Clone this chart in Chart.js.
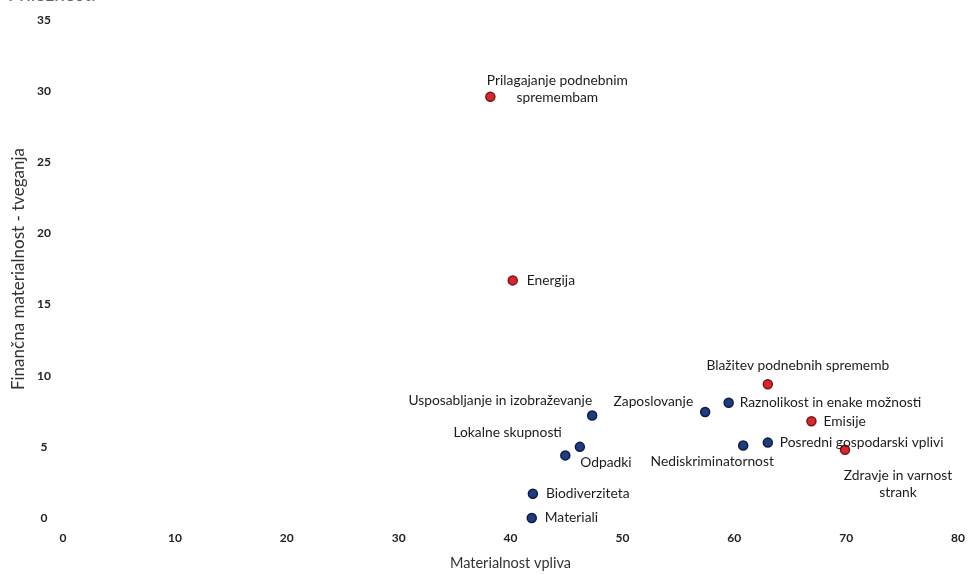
<!DOCTYPE html>
<html>
<head>
<meta charset="utf-8">
<script src="https://cdn.jsdelivr.net/npm/chart.js@4.4.1/dist/chart.umd.min.js"></script>
<style>
  html, body { margin: 0; padding: 0; background: #fff; }
  #wrap { position: relative; width: 968px; height: 574px; overflow: hidden; }
  #cut { position: absolute; left: 8px; top: -18px; font: 19px/23px Lato, sans-serif; color: #666; }
</style>
</head>
<body>
<div id="wrap">
  <div id="cut">Priložnosti</div>
  <canvas id="chart" width="968" height="574"></canvas>
</div>
<script>
// data ====================================
const redNames = ["Prilagajanje podnebnim spremembam", "Energija", "Blažitev podnebnih sprememb", "Emisije", "Zdravje in varnost strank"];
const redX = [38.2, 40.2, 63.0, 66.9, 69.9];
const redY = [29.6, 16.7, 9.4, 6.8, 4.8];

const blueNames = ["Usposabljanje in izobraževanje", "Zaposlovanje", "Raznolikost in enake možnosti", "Lokalne skupnosti", "Odpadki", "Nediskriminatornost", "Posredni gospodarski vplivi", "Biodiverziteta", "Materiali"];
const blueX = [47.3, 57.4, 59.5, 46.2, 44.9, 60.8, 63.0, 42.0, 41.9];
const blueY = [7.2, 7.45, 8.1, 5.0, 4.4, 5.1, 5.3, 1.7, 0];

const xTicks = [0, 10, 20, 30, 40, 50, 60, 70, 80];
const yTicks = [0, 5, 10, 15, 20, 25, 30, 35];

// label placement (name lines, anchor relative to point)
const redLabelPlace = [
  { lines: ["Prilagajanje podnebnim", "spremembam"], align: "center", dx: 67, dy: -8 },
  { lines: ["Energija"], align: "left", dx: 14, dy: 0 },
  { lines: ["Blažitev podnebnih sprememb"], align: "center", dx: 30, dy: -19 },
  { lines: ["Emisije"], align: "left", dx: 12, dy: 0 },
  { lines: ["Zdravje in varnost", "strank"], align: "center", dx: 53, dy: 34 },
];
const blueLabelPlace = [
  { lines: ["Usposabljanje in izobraževanje"], align: "right", dx: 0, dy: -15 },
  { lines: ["Zaposlovanje"], align: "right", dx: -12, dy: -10 },
  { lines: ["Raznolikost in enake možnosti"], align: "left", dx: 11, dy: 0 },
  { lines: ["Lokalne skupnosti"], align: "right", dx: -18, dy: -14 },
  { lines: ["Odpadki"], align: "left", dx: 15, dy: 7 },
  { lines: ["Nediskriminatornost"], align: "center", dx: -31, dy: 16 },
  { lines: ["Posredni gospodarski vplivi"], align: "left", dx: 12, dy: 0 },
  { lines: ["Biodiverziteta"], align: "left", dx: 13, dy: 0 },
  { lines: ["Materiali"], align: "left", dx: 13, dy: 0 },
];

const toPoints = (xs, ys) => xs.map((x, i) => ({ x: x, y: ys[i] }));

// point labels plugin
const pointLabels = {
  id: "pointLabels",
  afterDatasetsDraw(chart) {
    const ctx = chart.ctx;
    const places = [redLabelPlace, blueLabelPlace];
    ctx.save();
    ctx.font = "13.8px Lato, sans-serif";
    ctx.fillStyle = "#1c1c1c";
    ctx.textBaseline = "middle";
    chart.data.datasets.forEach((ds, di) => {
      const meta = chart.getDatasetMeta(di);
      meta.data.forEach((pt, i) => {
        const p = places[di][i];
        ctx.textAlign = p.align;
        const lh = 17;
        const y0 = pt.y + p.dy - (p.lines.length - 1) * lh / 2;
        p.lines.forEach((line, li) => {
          ctx.fillText(line, pt.x + p.dx, y0 + li * lh);
        });
      });
    });
    ctx.restore();
  },
};

const tickFont = { family: "Lato, sans-serif", size: 12, weight: "bold" };

new Chart(document.getElementById("chart").getContext("2d"), {
  type: "scatter",
  data: {
    datasets: [
      {
        label: "Okolje",
        data: toPoints(redX, redY),
        backgroundColor: "#d8262c",
        borderColor: "#7a1518",
        borderWidth: 1.5,
        pointRadius: 4.5,
        clip: false,
      },
      {
        label: "Druge teme",
        data: toPoints(blueX, blueY),
        backgroundColor: "#1f3c82",
        borderColor: "#0d1a45",
        borderWidth: 1.5,
        pointRadius: 4.5,
        clip: false,
      },
    ],
  },
  options: {
    responsive: false,
    animation: false,
    layout: { padding: { top: 20, right: 0, left: 0, bottom: 0 } },
    plugins: {
      legend: { display: false },
      tooltip: { enabled: false },
    },
    scales: {
      x: {
        type: "linear",
        min: 0,
        max: 80,
        afterBuildTicks: (s) => { s.ticks = xTicks.map((v) => ({ value: v })); },
        afterFit: (s) => { s.height = 56; s.paddingRight = 10; s.paddingLeft = 0; },
        grid: { display: false, drawTicks: false },
        border: { display: false },
        ticks: { font: tickFont, color: "#222", padding: 13 },
        title: { display: true, text: "Materialnost vpliva", font: { family: "Lato, sans-serif", size: 14.5 }, color: "#333", padding: { top: 0, bottom: 2 } },
      },
      y: {
        type: "linear",
        min: 0,
        max: 35,
        afterBuildTicks: (s) => { s.ticks = yTicks.map((v) => ({ value: v })); },
        afterFit: (s) => { s.width = 63; },
        grid: { display: false, drawTicks: false },
        border: { display: false },
        ticks: { font: tickFont, color: "#222", padding: 12, crossAlign: "center" },
        title: { display: true, text: "Finančna materialnost - tveganja", font: { family: "Lato, sans-serif", size: 17 }, color: "#333", padding: { top: 8, bottom: 0 } },
      },
    },
  },
  plugins: [pointLabels],
});
</script>
</body>
</html>
